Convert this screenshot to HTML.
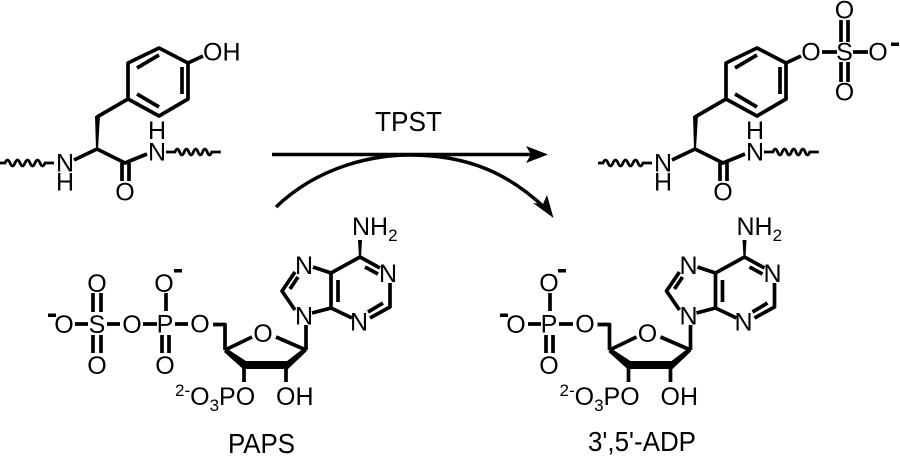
<!DOCTYPE html>
<html><head><meta charset="utf-8"><style>
html,body{margin:0;padding:0;background:#fff}
svg{display:block}
text{font-family:"Liberation Sans",sans-serif;fill:#000;font-size:25px}
.m{text-anchor:middle}
.b{stroke:#000;stroke-width:3.7;fill:none;stroke-linecap:butt;stroke-linejoin:round}
.w{stroke:#000;stroke-width:2.8;fill:none}
.s{font-size:17px}
</style></head><body>
<svg width="900" height="461" viewBox="0 0 900 461" xmlns="http://www.w3.org/2000/svg">
<rect width="900" height="461" fill="#fff"/>

<!-- Left tyrosine -->
<g>
<path class="b" d="M128 99V63L159 48L188 63V99L159 116L128 99M137 68L159 55M182 67V94M137 94L159 107M188 63L203 56M128 99L97 117M97 149L74 160M97 149L125 163L147 154M122 163V181M129 163V181"/>
<path d="M95 116L100 116L98 149L96 149Z" fill="#000"/>
<path class="w" d="M0 163h5q2.500-6 5 0t5 0t5 0t5 0t5 0t5 0t5 0t5 0h9"/>
<path class="w" d="M166 152h9q2.300-6 4.600 0t4.600 0t4.600 0t4.600 0t4.600 0t4.600 0t4.600 0t4.600 0h9"/>
<text class="m" x="65" y="171.500">N</text><text class="m" x="65" y="190.500">H</text>
<text class="m" x="125" y="200.500">O</text>
<text class="m" x="157" y="160.500">N</text><text class="m" x="157" y="139">H</text>
<text x="203" y="60.500">OH</text>
</g>

<!-- Right tyrosine -->
<g transform="translate(598 0)">
<path class="b" d="M128 99V63L159 48L188 63V99L159 116L128 99M137 68L159 55M182 67V94M137 94L159 107M188 63L203 56M128 99L97 117M97 149L74 160M97 149L125 163L147 154M122 163V181M129 163V181"/>
<path d="M95 116L100 116L98 149L96 149Z" fill="#000"/>
<path class="w" d="M0 163h5q2.500-6 5 0t5 0t5 0t5 0t5 0t5 0t5 0t5 0h9"/>
<path class="w" d="M166 152h9q2.300-6 4.600 0t4.600 0t4.600 0t4.600 0t4.600 0t4.600 0t4.600 0t4.600 0h9"/>
<text class="m" x="65" y="171.500">N</text><text class="m" x="65" y="190.500">H</text>
<text class="m" x="125" y="200.500">O</text>
<text class="m" x="157" y="160.500">N</text><text class="m" x="157" y="139">H</text>
</g>
<path class="b" d="M822 52H837M853 52H868M841 20V42M848 20V42M841 62V82M848 62V82"/>
<text class="m" x="811" y="60.500">O</text>
<text class="m" x="844.500" y="60.500">S</text>
<text class="m" x="878" y="60.500">O</text>
<text class="m" x="844.500" y="18.500">O</text>
<text class="m" x="844.500" y="100.500">O</text>
<rect x="891" y="42.500" width="8" height="3.500" fill="#000"/>

<!-- Arrows -->
<path d="M272 154.500H535" stroke="#000" stroke-width="3.500" fill="none"/>
<path d="M526 146L548 154.500L526 163L531 154.500Z" fill="#000"/>
<path d="M276 207C320 165 375 155 410 155C470 155 510 175 545 208" stroke="#000" stroke-width="3.500" fill="none"/>
<path d="M547 195L553.500 218L533 203L543 204Z" fill="#000"/>
<text x="375" y="131" style="font-size:28px" textLength="67" lengthAdjust="spacingAndGlyphs">TPST</text>

<!-- PAPS phosphates -->
<path class="b" d="M75 324H88M107 324H120M143 324H157M175 324H188M93 293V312M101 293V312M93 335V353M101 335V353M166 293V311M162 335V353M169 335V353"/>
<text class="m" x="64" y="333">O</text>
<text class="m" x="97" y="333">S</text>
<text class="m" x="132" y="333">O</text>
<text class="m" x="165" y="332.500">P</text>
<text class="m" x="200" y="332.500">O</text>
<text class="m" x="97" y="292">O</text>
<text class="m" x="97" y="374">O</text>
<text class="m" x="164" y="292">O</text>
<text class="m" x="165" y="374">O</text>
<rect x="48" y="313.500" width="8" height="3.500" fill="#000"/>
<rect x="174" y="269" width="8" height="3.500" fill="#000"/>

<!-- PAPS nucleotide -->
<g>
<path class="b" d="M213 324.500H225V350M225 350L252 337M276 337L306 350M306 350V325M244 365V382M286 365V382M313 267L331 273M295 272L282 291L295 310M298 277L290 289M312 313L331 308M331 273V308M338 280V302M331 273L360 257L380 268M365 267L378 274M390 283V307L370 318M383 303L368 312M352 318L331 308"/>
<path d="M224 352L226 348L246 361L287 361L304 348L307 351L288 369L243 369Z" fill="#000"/>
<path d="M358 240H362L361 257H359Z" fill="#000"/>
<text class="m" x="304" y="324.500">N</text>
<text class="m" x="304" y="274">N</text>
<text class="m" x="388" y="282">N</text>
<text class="m" x="359" y="330.500">N</text>
<text class="m" x="263" y="342">O</text>
<text x="352" y="235">NH<tspan class="s" dy="6">2</tspan></text>
<text x="276" y="405">OH</text>
<text x="175" y="405"><tspan class="s" dy="-9">2-</tspan><tspan dy="9">O</tspan><tspan class="s" dy="6">3</tspan><tspan dy="-6">PO</tspan></text>
</g>
<text x="228" y="453" style="font-size:28px" textLength="67" lengthAdjust="spacingAndGlyphs">PAPS</text>

<!-- ADP phosphate -->
<path class="b" d="M528 324H541M559 324H573M550 293V311M546 335V353M553 335V353"/>
<text class="m" x="516" y="333">O</text>
<text class="m" x="549" y="332.500">P</text>
<text class="m" x="585" y="332.500">O</text>
<text class="m" x="549" y="291.500">O</text>
<text class="m" x="549" y="374">O</text>
<rect x="500" y="313.500" width="8" height="3.500" fill="#000"/>
<rect x="558" y="269" width="8" height="3.500" fill="#000"/>

<!-- ADP nucleotide -->
<g transform="translate(384.500 0)">
<path class="b" d="M213 324.500H225V350M225 350L252 337M276 337L306 350M306 350V325M244 365V382M286 365V382M313 267L331 273M295 272L282 291L295 310M298 277L290 289M312 313L331 308M331 273V308M338 280V302M331 273L360 257L380 268M365 267L378 274M390 283V307L370 318M383 303L368 312M352 318L331 308"/>
<path d="M224 352L226 348L246 361L287 361L304 348L307 351L288 369L243 369Z" fill="#000"/>
<path d="M358 240H362L361 257H359Z" fill="#000"/>
<text class="m" x="304" y="324.500">N</text>
<text class="m" x="304" y="274">N</text>
<text class="m" x="388" y="282">N</text>
<text class="m" x="359" y="330.500">N</text>
<text class="m" x="263" y="342">O</text>
<text x="352" y="235">NH<tspan class="s" dy="6">2</tspan></text>
<text x="276" y="405">OH</text>
<text x="175" y="405"><tspan class="s" dy="-9">2-</tspan><tspan dy="9">O</tspan><tspan class="s" dy="6">3</tspan><tspan dy="-6">PO</tspan></text>
</g>
<text x="588" y="451" style="font-size:28px" textLength="108" lengthAdjust="spacingAndGlyphs">3',5'-ADP</text>
</svg>
</body></html>
